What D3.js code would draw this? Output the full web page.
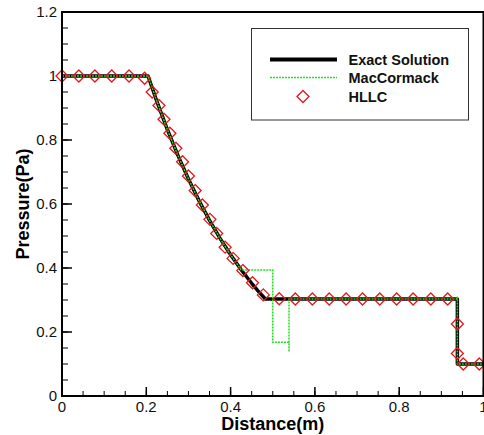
<!DOCTYPE html>
<html>
<head>
<meta charset="utf-8">
<script src="https://cdn.jsdelivr.net/npm/d3@7"></script>
<style>
  html, body { margin: 0; padding: 0; background: #fff; }
  svg { display: block; }
  text { font-family: "Liberation Sans", Arial, sans-serif; }
</style>
</head>
<body>
<svg id="chart" width="484" height="435"></svg>
<script>
// ---- Data ----
const exactX = [0, 0.2042, 0.225, 0.25, 0.275, 0.3, 0.325, 0.35, 0.375, 0.4, 0.425, 0.45, 0.465, 0.4825, 0.938, 0.938, 1.0];
const exactP = [1, 1, 0.9208, 0.8327, 0.7520, 0.6781, 0.6105, 0.5488, 0.4925, 0.4412, 0.3945, 0.3522, 0.3287, 0.3031, 0.3031, 0.1, 0.1];

const macX = [0, 0.2042, 0.225, 0.25, 0.275, 0.3, 0.325, 0.35, 0.375, 0.4, 0.425, 0.43, 0.5, 0.5, 0.5386, 0.5386, 0.5386, 0.936, 0.938, 0.938, 1.0];
const macP = [1, 1, 0.9208, 0.8327, 0.7520, 0.6781, 0.6105, 0.5488, 0.4925, 0.4412, 0.3945, 0.394, 0.394, 0.168, 0.168, 0.138, 0.303, 0.303, 0.31, 0.1, 0.1];

const hllcX = [0, 0.04, 0.078, 0.118, 0.159, 0.196, 0.214, 0.230, 0.242, 0.256, 0.270, 0.286, 0.300, 0.316, 0.333, 0.351, 0.367, 0.387, 0.406, 0.429, 0.452, 0.4776, 0.5155, 0.5535, 0.594, 0.634, 0.674, 0.713, 0.754, 0.794, 0.833, 0.875, 0.915, 0.938, 0.938, 0.952, 0.990];
const hllcP = [1, 1, 1, 1, 1, 0.993, 0.95, 0.908, 0.865, 0.821, 0.774, 0.732, 0.6875, 0.642, 0.597, 0.552, 0.508, 0.465, 0.430, 0.392, 0.354, 0.316, 0.304, 0.303, 0.303, 0.303, 0.303, 0.303, 0.303, 0.303, 0.303, 0.303, 0.303, 0.225, 0.133, 0.1, 0.1];

const xTicks = [0, 0.2, 0.4, 0.6, 0.8, 1];
const xTickLabels = ["0", "0.2", "0.4", "0.6", "0.8", "1"];
const yTicks = [0, 0.2, 0.4, 0.6, 0.8, 1, 1.2];
const yTickLabels = ["0", "0.2", "0.4", "0.6", "0.8", "1", "1.2"];
const seriesNames = ["Exact Solution", "MacCormack", "HLLC"];
const xTitle = "Distance(m)";
const yTitle = "Pressure(Pa)";

// ---- Layout ----
const L = 62, R = 483.5, T = 12, B = 396;
const svg = d3.select("#chart");
const x = d3.scaleLinear().domain([0, 1]).range([L, R]);
const y = d3.scaleLinear().domain([0, 1.2]).range([B, T]);

const RED = "#e3181f", GREEN = "#22dd22";

svg.append("defs").append("clipPath").attr("id", "clip")
  .append("rect").attr("x", L).attr("y", T).attr("width", R - L).attr("height", B - T);

// minor ticks
const xMinor = d3.range(0, 1.0001, 0.05);
const yMinor = d3.range(0, 1.2001, 0.05);
const tickG = svg.append("g");
tickG.selectAll(".xm").data(xMinor).enter().append("line")
  .attr("x1", d => x(d)).attr("x2", d => x(d))
  .attr("y1", B).attr("y2", B - 5).attr("stroke", "#000").attr("stroke-width", 1);
tickG.selectAll(".ym").data(yMinor).enter().append("line")
  .attr("y1", d => y(d)).attr("y2", d => y(d))
  .attr("x1", L).attr("x2", L + 6).attr("stroke", "#000").attr("stroke-width", 1);
// major ticks
tickG.selectAll(".xM").data(xTicks).enter().append("line")
  .attr("x1", d => x(d)).attr("x2", d => x(d))
  .attr("y1", B).attr("y2", B - 9).attr("stroke", "#000").attr("stroke-width", 1.5);
tickG.selectAll(".yM").data(yTicks).enter().append("line")
  .attr("y1", d => y(d)).attr("y2", d => y(d))
  .attr("x1", L).attr("x2", L + 10).attr("stroke", "#000").attr("stroke-width", 1.5);

// tick labels
svg.selectAll(".xl").data(xTicks).enter().append("text")
  .attr("x", d => x(d)).attr("y", 412)
  .attr("text-anchor", "middle").attr("font-size", 15).attr("fill", "#111")
  .text((d, i) => xTickLabels[i]);
svg.selectAll(".yl").data(yTicks).enter().append("text")
  .attr("x", 57).attr("y", d => y(d)).attr("dy", "0.36em")
  .attr("text-anchor", "end").attr("font-size", 15).attr("fill", "#111")
  .text((d, i) => yTickLabels[i]);

// data
const dataG = svg.append("g").attr("clip-path", "url(#clip)");
const line = d3.line().x(d => x(d[0])).y(d => y(d[1]));

dataG.append("path")
  .datum(exactX.map((v, i) => [v, exactP[i]]))
  .attr("d", line).attr("fill", "none").attr("stroke", "#000")
  .attr("stroke-width", 3.5).attr("stroke-linejoin", "round");

dataG.append("path")
  .datum(macX.map((v, i) => [v, macP[i]]))
  .attr("d", line).attr("fill", "none").attr("stroke", GREEN)
  .attr("stroke-width", 1.5).attr("stroke-dasharray", "2,1");

const diamond = "M0,-6L6,0L0,6L-6,0Z";
svg.append("g").selectAll("path").data(hllcX.map((v, i) => [v, hllcP[i]]))
  .enter().append("path")
  .attr("d", diamond)
  .attr("transform", d => `translate(${x(d[0])},${y(d[1])})`)
  .attr("fill", "none").attr("stroke", RED).attr("stroke-width", 1.3);

// frame
svg.append("rect").attr("x", L).attr("y", T).attr("width", R - L).attr("height", B - T)
  .attr("fill", "none").attr("stroke", "#000").attr("stroke-width", 2);

// axis titles
svg.append("text").attr("x", (L + R) / 2).attr("y", 430)
  .attr("text-anchor", "middle").attr("font-size", 18).attr("font-weight", "bold")
  .text(xTitle);
svg.append("text").attr("transform", `translate(29,${(T + B) / 2}) rotate(-90)`)
  .attr("text-anchor", "middle").attr("font-size", 18).attr("font-weight", "bold")
  .text(yTitle);

// legend
const lg = svg.append("g");
lg.append("rect").attr("x", 251.5).attr("y", 28.5).attr("width", 217).attr("height", 91.5)
  .attr("fill", "#fff").attr("stroke", "#333").attr("stroke-width", 1);
const rowY = [59.5, 77.5, 96.5];
lg.append("line").attr("x1", 270).attr("x2", 337).attr("y1", rowY[0]).attr("y2", rowY[0])
  .attr("stroke", "#000").attr("stroke-width", 4);
lg.append("line").attr("x1", 270).attr("x2", 337).attr("y1", rowY[1]).attr("y2", rowY[1])
  .attr("stroke", GREEN).attr("stroke-width", 1.5).attr("stroke-dasharray", "2,1");
lg.append("path").attr("d", diamond).attr("transform", `translate(303,${rowY[2]})`)
  .attr("fill", "none").attr("stroke", RED).attr("stroke-width", 1.3);
lg.selectAll(".lt").data(seriesNames).enter().append("text")
  .attr("x", 348.5).attr("y", (d, i) => rowY[i]).attr("dy", "0.36em")
  .attr("font-size", 14.5).attr("font-weight", "bold").attr("fill", "#111")
  .text(d => d);
</script>
</body>
</html>
